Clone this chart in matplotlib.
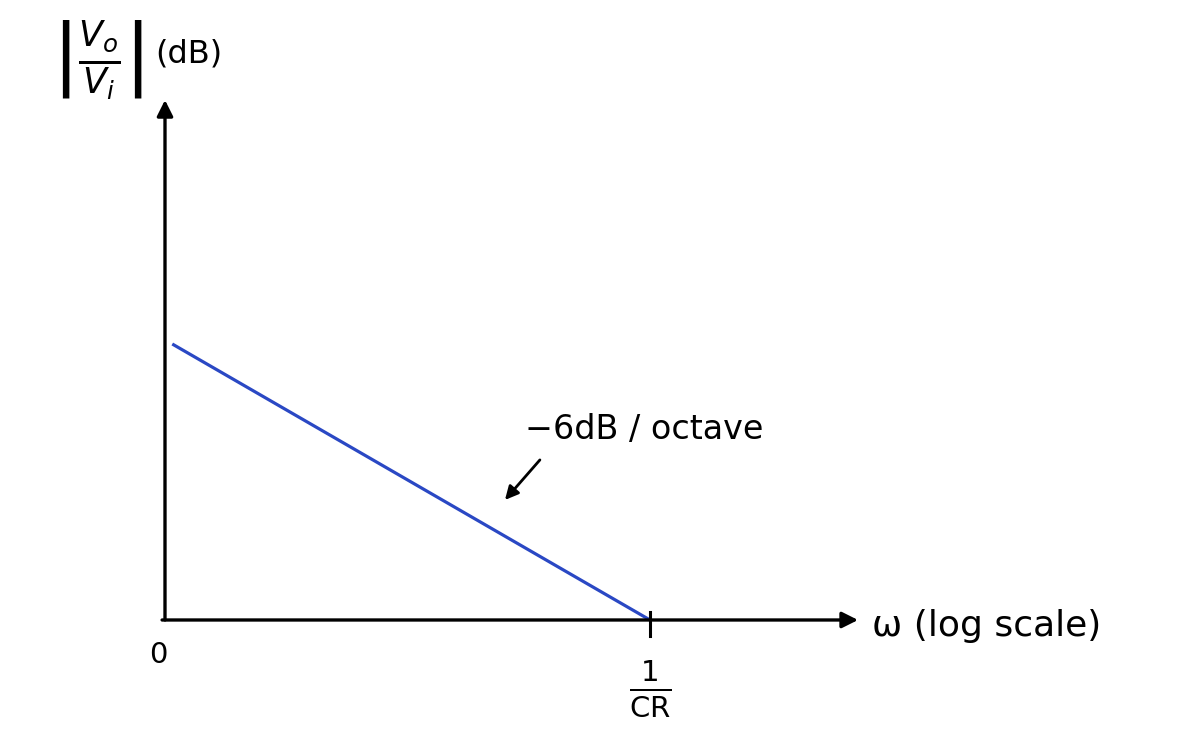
import matplotlib
matplotlib.use("Agg")
import matplotlib.pyplot as plt

# Data (x: frequency position, 1.0 = 1/CR ; y: gain, 0 = 0 dB level at axis)
line_x = [0.015, 1.0]
line_y = [1.0, 0.0]
tick_positions = [0.0, 1.0]
tick_labels = ["0", r"$\frac{1}{\mathrm{CR}}$"]
slope_label = "−6dB / octave"
x_axis_label = "ω (log scale)"
y_axis_label = r"$\left|\frac{V_o}{V_i}\right|$"
y_unit_label = "(dB)"

fig = plt.figure(figsize=(11.99, 7.56), dpi=100)
ax = fig.add_axes([0, 0, 1, 1])
ax.set_xlim(-0.3402, 2.132)
ax.set_ylim(-0.4928, 2.2464)
ax.axis("off")

blk = "black"
# axes arrows
ax.annotate("", xy=(0, 1.884), xytext=(0, 0),
            arrowprops=dict(arrowstyle="-|>", lw=2.4, color=blk, mutation_scale=24,
                            shrinkA=0, shrinkB=0))
ax.annotate("", xy=(1.429, 0), xytext=(-0.006, 0),
            arrowprops=dict(arrowstyle="-|>", lw=2.4, color=blk, mutation_scale=24,
                            shrinkA=0, shrinkB=0))

# response line
ax.plot(line_x, line_y, color="#2a48c4", lw=2.3, solid_capstyle="butt")

# tick at 1/CR
ax.plot([tick_positions[1], tick_positions[1]], [0.029, -0.058], color=blk, lw=2.2)

# tick labels
ax.text(-0.0144, -0.127, tick_labels[0], fontsize=21, ha="center", va="center")
ax.text(tick_positions[1], -0.25, tick_labels[1], fontsize=30, ha="center", va="center")

# axis labels
ax.text(1.458, -0.02, x_axis_label, fontsize=26, ha="left", va="center")
ax.text(-0.232, 2.03, y_axis_label, fontsize=36, ha="left", va="center")
ax.text(-0.02, 2.05, y_unit_label, fontsize=23, ha="left", va="center")

# slope annotation
ax.text(0.742, 0.69, slope_label, fontsize=24, ha="left", va="center")
ax.annotate("", xy=(0.701, 0.435), xytext=(0.773, 0.58),
            arrowprops=dict(arrowstyle="-|>", lw=2.0, color=blk, mutation_scale=20,
                            shrinkA=0, shrinkB=0))

fig.savefig("out.png", dpi=100, facecolor="white")
